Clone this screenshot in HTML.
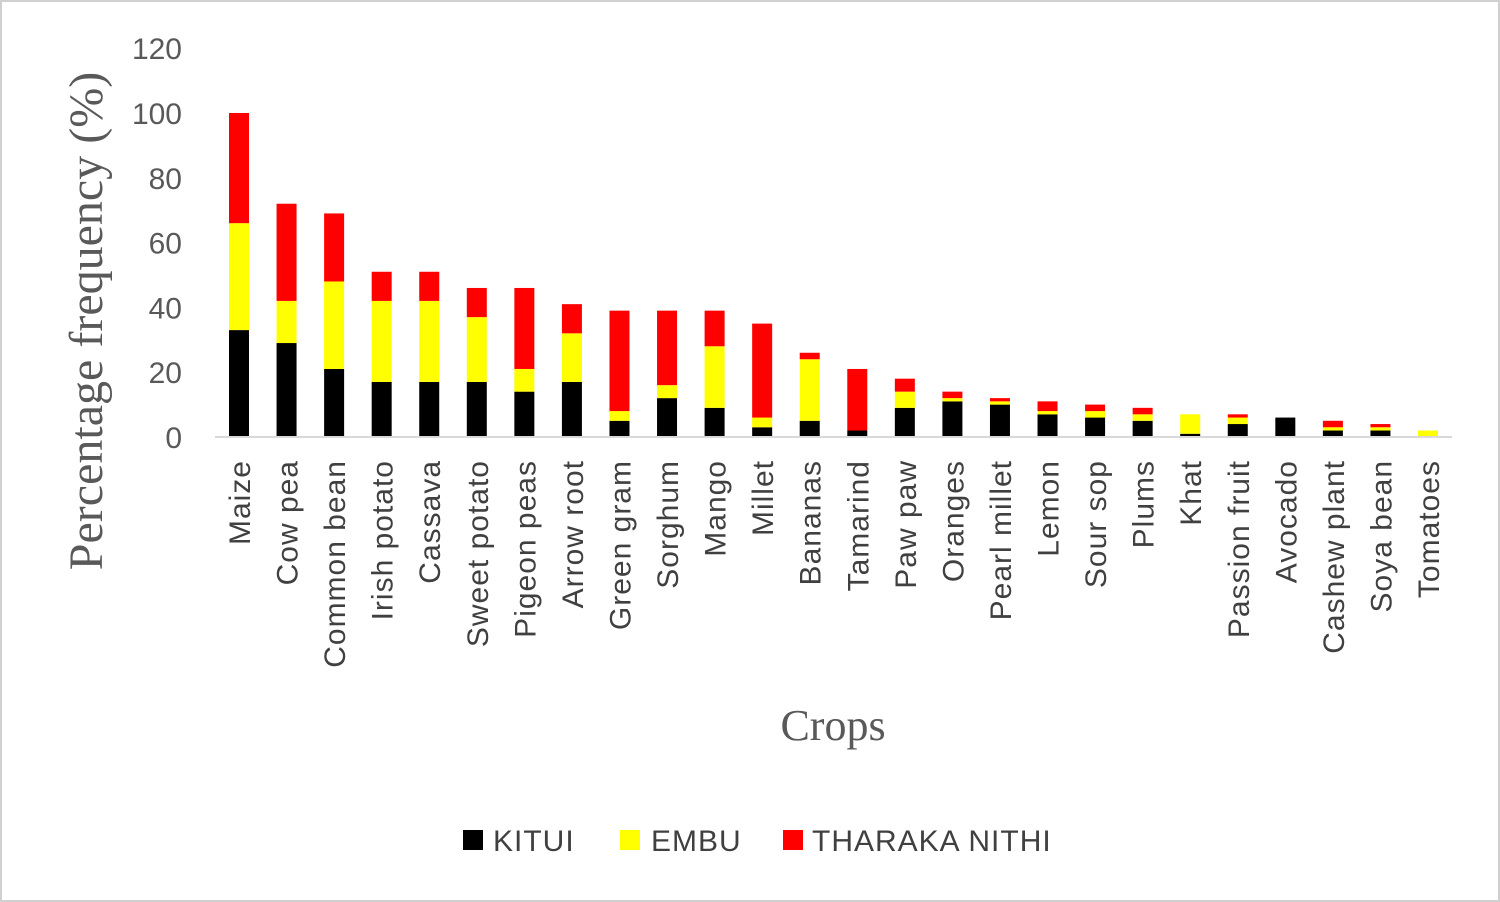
<!DOCTYPE html>
<html><head><meta charset="utf-8"><style>
html,body{margin:0;padding:0;background:#fff;}
svg{display:block;}
</style></head><body>
<svg id="chart" width="1500" height="902" xmlns="http://www.w3.org/2000/svg">
<rect x="1" y="1" width="1498" height="900" fill="#fff" stroke="#d0d0d0" stroke-width="2"/>
<g id="bars"></g>
<line x1="215" y1="437" x2="1452" y2="437" stroke="#d9d9d9" stroke-width="2"/>
<g id="yticks" font-family="Liberation Sans, sans-serif" font-size="30" fill="#595959" text-anchor="end"></g>
<g id="xlabels" font-family="Liberation Sans, sans-serif" font-size="30" letter-spacing="1" fill="#404040"></g>
<text transform="translate(102,321) rotate(-90)" text-anchor="middle" font-family="Liberation Serif, serif" font-size="48" fill="#595959">Percentage  frequency (%)</text>
<text x="833" y="740" text-anchor="middle" font-family="Liberation Serif, serif" font-size="44" fill="#595959">Crops</text>
<g font-family="Liberation Sans, sans-serif" font-size="30" letter-spacing="1" fill="#404040">
<g><rect x="463" y="830" width="20" height="20" fill="#000"/><text x="493" y="851">KITUI</text></g>
<g><rect x="620" y="830" width="20" height="20" fill="#ffff00"/><text x="651" y="851">EMBU</text></g>
<g><rect x="783" y="830" width="20" height="20" fill="#ff0000"/><text x="812" y="851">THARAKA NITHI</text></g>
</g>
</svg>
<script>
const categories=["Maize","Cow pea","Common bean","Irish potato","Cassava","Sweet potato","Pigeon peas","Arrow root","Green gram","Sorghum","Mango","Millet","Bananas","Tamarind","Paw paw","Oranges","Pearl millet","Lemon","Sour sop","Plums","Khat","Passion fruit","Avocado","Cashew plant","Soya bean","Tomatoes"];
const kitui=[33,29,21,17,17,17,14,17,5,12,9,3,5,2,9,11,10,7,6,5,1,4,6,2,2,0];
const embu=[33,13,27,25,25,20,7,15,3,4,19,3,19,0,5,1,1,1,2,2,6,2,0,1,1,2];
const tharaka=[34,30,21,9,9,9,25,9,31,23,11,29,2,19,4,2,1,3,2,2,0,1,0,2,1,0];
const yTicks=[0,20,40,60,80,100,120];
const NS="http://www.w3.org/2000/svg";
const y0=437, pxPer=3.24, x0=239, step=47.56, bw=20;
const yS=v=>y0-v*pxPer;
const xS=i=>x0+i*step;
const bars=document.getElementById('bars');
const series=[[kitui,"#000000","kitui"],[embu,"#ffff00","embu"],[tharaka,"#ff0000","tharaka-nithi"]];
categories.forEach((c,i)=>{
  let base=0;
  series.forEach(([arr,col,nm])=>{
    const v=arr[i];
    if(v>0){
      const r=document.createElementNS(NS,'rect');
      r.setAttribute('x',xS(i)-bw/2);
      r.setAttribute('y',yS(base+v));
      r.setAttribute('width',bw);
      r.setAttribute('height',v*pxPer);
      r.setAttribute('fill',col);
      
      
      bars.appendChild(r);
    }
    base+=v;
  });
  const t=document.createElementNS(NS,'text');
  t.setAttribute('transform','translate('+(xS(i)+11)+',460) rotate(-90)');
  t.setAttribute('text-anchor','end');
  t.textContent=c;
  
  
  document.getElementById('xlabels').appendChild(t);
});
yTicks.forEach(v=>{
  const t=document.createElementNS(NS,'text');
  t.setAttribute('x',182);
  t.setAttribute('y',yS(v)+11);
  t.textContent=v;
  
  
  document.getElementById('yticks').appendChild(t);
});
</script>
</body></html>
